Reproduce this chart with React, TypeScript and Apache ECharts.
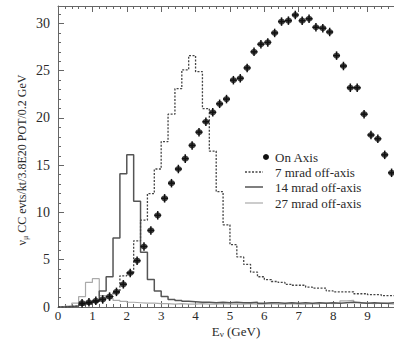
import React, { useEffect, useRef } from "react";
import * as echarts from "echarts";

// ---- data ----
const BIN_WIDTH = 0.2; // GeV per histogram bin (bins start at 0)

const onAxisEnergy = [
  0.7, 0.9, 1.1, 1.3, 1.5, 1.7, 1.9, 2.1, 2.3, 2.5, 2.7, 2.9, 3.1, 3.3, 3.5, 3.7,
  3.9, 4.1, 4.3, 4.5, 4.7, 4.9, 5.1, 5.3, 5.5, 5.7, 5.9, 6.1, 6.3, 6.5, 6.7, 6.9,
  7.1, 7.3, 7.5, 7.7, 7.9, 8.1, 8.3, 8.5, 8.7, 8.9, 9.1, 9.3, 9.5, 9.7,
];
const onAxisRate = [
  0.4, 0.5, 0.65, 0.8, 1.1, 1.6, 2.4, 3.6, 4.9, 6.4, 8.1, 9.7, 11.5, 13.1, 14.6, 15.7,
  17.1, 18.5, 19.6, 20.6, 21.5, 22.0, 24.0, 24.2, 25.3, 27.0, 27.8, 28.0, 29.0, 30.2, 30.3, 30.9,
  30.3, 30.5, 29.6, 29.5, 29.1, 26.6, 25.5, 23.2, 23.2, 20.4, 18.2, 17.8, 16.1, 14.2,
];

const offAxis7 = [
  0, 0.05, 0.1, 0.2, 0.3, 0.5, 0.8, 1.1, 1.6, 3.3,
  3.6, 7.0, 9.2, 12.0, 14.6, 17.5, 20.4, 23.1, 25.1, 26.6,
  24.9, 21.0, 16.5, 12.2, 8.7, 6.6, 5.3, 4.5, 3.7, 3.2,
  2.9, 2.7, 2.6, 2.4, 2.3, 2.3, 2.1, 2.0, 2.0, 1.7,
  1.6, 1.6, 1.6, 1.4, 1.4, 1.3, 1.3, 1.2, 1.2, 1.1,
];
const offAxis14 = [
  0, 0.05, 0.1, 0.2, 0.35, 0.6, 1.7, 3.2, 7.3, 14.1,
  16.1, 11.2, 5.8, 2.9, 1.7, 1.1, 0.8, 0.7, 0.6, 0.55,
  0.5, 0.5, 0.45, 0.5, 0.45, 0.5, 0.45, 0.45, 0.5, 0.4,
  0.45, 0.45, 0.4, 0.45, 0.4, 0.45, 0.4, 0.45, 0.4, 0.45,
  0.4, 0.45, 0.5, 0.45, 0.4, 0.45, 0.4, 0.4, 0.45, 0.4,
];
const offAxis27 = [
  0, 0.1, 0.4, 1.1, 2.6, 3.0, 1.2, 0.9, 0.7, 0.6,
  0.5, 0.45, 0.4, 0.4, 0.35, 0.35, 0.3, 0.35, 0.3, 0.3,
  0.35, 0.3, 0.3, 0.35, 0.3, 0.3, 0.3, 0.35, 0.3, 0.3,
  0.35, 0.3, 0.3, 0.35, 0.3, 0.3, 0.35, 0.3, 0.4, 0.35,
  0.4, 0.65, 0.7, 0.5, 0.4, 0.35, 0.4, 0.35, 0.3, 0.3,
];

const legendLabels = ["On Axis", "7 mrad off-axis", "14 mrad off-axis", "27 mrad off-axis"];

// ---- style ----
const FONT = "'Liberation Serif', 'DejaVu Serif', serif";
const TEXT = "#2a2a2a";
const AXIS = "#666";
const ERR_Y = 0.45;

function histogram(values: number[]) {
  const pts = values.map((v, i) => [Number((i * BIN_WIDTH).toFixed(2)), v]);
  pts.push([Number((values.length * BIN_WIDTH).toFixed(2)), values[values.length - 1]]);
  return pts;
}

export default function App() {
  const ref = useRef<HTMLDivElement>(null);
  useEffect(() => {
    if (!ref.current) return;
    const chart = echarts.init(ref.current, undefined, { renderer: "svg" });
    const points = onAxisEnergy.map((e, i) => [e, onAxisRate[i]]);

    const axisCommon = {
      type: "value" as const,
      min: 0,
      max: 9.77,
      interval: 1,
      axisLine: { show: true, lineStyle: { color: AXIS, width: 1 } },
      axisTick: { show: true, inside: true, length: 6, lineStyle: { color: AXIS } },
      minorTick: { show: true, splitNumber: 5, length: 3, lineStyle: { color: AXIS } },
      splitLine: { show: false },
    };

    const legendRows = [157, 172, 187, 203];
    const lx = 275;

    chart.setOption({
      animation: false,
      backgroundColor: "#fff",
      grid: { left: 58, top: 6, width: 336, height: 301, containLabel: false },
      xAxis: [
        {
          ...axisCommon,
          position: "bottom",
          axisLabel: {
            show: true,
            showMaxLabel: false,
            margin: 2,
            fontFamily: FONT,
            fontSize: 13,
            color: TEXT,
          },
        },
        {
          ...axisCommon,
          position: "top",
          axisLabel: { show: false },
        },
      ],
      yAxis: [
        {
          type: "value",
          min: 0,
          max: 31.85,
          interval: 5,
          axisLine: { show: true, lineStyle: { color: AXIS, width: 1 } },
          axisTick: { show: true, inside: true, length: 6, lineStyle: { color: AXIS } },
          minorTick: { show: true, splitNumber: 5, length: 3, lineStyle: { color: AXIS } },
          splitLine: { show: false },
          axisLabel: {
            showMaxLabel: false,
            margin: 8,
            fontFamily: FONT,
            fontSize: 14,
            color: TEXT,
          },
        },
      ],
      series: [
        {
          name: legendLabels[3],
          type: "line",
          step: "end",
          data: histogram(offAxis27),
          showSymbol: false,
          symbol: "none",
          lineStyle: { color: "#aaa", width: 1.2 },
          z: 2,
        },
        {
          name: legendLabels[2],
          type: "line",
          step: "end",
          data: histogram(offAxis14),
          showSymbol: false,
          symbol: "none",
          lineStyle: { color: "#555", width: 1.5 },
          z: 3,
        },
        {
          name: legendLabels[1],
          type: "line",
          step: "end",
          data: histogram(offAxis7),
          showSymbol: false,
          symbol: "none",
          lineStyle: { color: "#444", width: 1.3, type: [2, 1.5] },
          z: 4,
        },
        {
          type: "custom",
          data: points,
          z: 5,
          renderItem: (params: any, api: any) => {
            const x = api.value(0);
            const y = api.value(1);
            const l = api.coord([x - BIN_WIDTH / 2, y]);
            const r = api.coord([x + BIN_WIDTH / 2, y]);
            const t = api.coord([x, y + ERR_Y]);
            const b = api.coord([x, y - ERR_Y]);
            return {
              type: "group",
              children: [
                { type: "line", shape: { x1: l[0], y1: l[1], x2: r[0], y2: r[1] }, style: { stroke: "#111", lineWidth: 1.5 } },
                { type: "line", shape: { x1: t[0], y1: t[1], x2: b[0], y2: b[1] }, style: { stroke: "#111", lineWidth: 1.5 } },
              ],
            };
          },
        },
        {
          name: legendLabels[0],
          type: "scatter",
          data: points,
          symbol: "circle",
          symbolSize: [7, 6],
          itemStyle: { color: "#111" },
          z: 6,
        },
      ],
      graphic: [
        // y-axis title
        {
          type: "text",
          x: 22,
          y: 160,
          rotation: Math.PI / 2,
          style: {
            text: "{a|ν}{s|μ}{a| CC evts/kt/3.8E20 POT/0.2 GeV}",
            align: "center",
            verticalAlign: "middle",
            fill: TEXT,
            rich: {
              a: { fontFamily: FONT, fontSize: 12, fill: TEXT },
              s: { fontFamily: FONT, fontSize: 8, fill: TEXT, padding: [6, 0, 0, 0] },
            },
          },
        },
        // x-axis title
        {
          type: "text",
          x: 236,
          y: 331,
          style: {
            text: "{a|E}{s|ν}{a| (GeV)}",
            align: "center",
            verticalAlign: "middle",
            fill: TEXT,
            rich: {
              a: { fontFamily: FONT, fontSize: 13, fill: TEXT },
              s: { fontFamily: FONT, fontSize: 9, fill: TEXT, padding: [6, 0, 0, 0] },
            },
          },
        },
        // legend
        { type: "circle", shape: { cx: 266, cy: legendRows[0], r: 3 }, style: { fill: "#111" } },
        {
          type: "line",
          shape: { x1: 245, y1: legendRows[1], x2: 263, y2: legendRows[1] },
          style: { stroke: "#444", lineWidth: 1.3, lineDash: [2, 1.5] },
        },
        {
          type: "line",
          shape: { x1: 245, y1: legendRows[2], x2: 263, y2: legendRows[2] },
          style: { stroke: "#555", lineWidth: 1.5 },
        },
        {
          type: "line",
          shape: { x1: 245, y1: legendRows[3], x2: 263, y2: legendRows[3] },
          style: { stroke: "#aaa", lineWidth: 1.2 },
        },
        ...legendLabels.map((label, i) => ({
          type: "text",
          x: lx,
          y: legendRows[i],
          style: {
            text: label,
            fontFamily: FONT,
            fontSize: 13,
            fill: TEXT,
            align: "left",
            verticalAlign: "middle",
          },
        })),
      ],
    });
    return () => chart.dispose();
  }, []);

  return (
    <div
      ref={ref}
      style={{ position: "absolute", left: 0, top: 0, width: 394, height: 339, background: "#fff" }}
    />
  );
}
